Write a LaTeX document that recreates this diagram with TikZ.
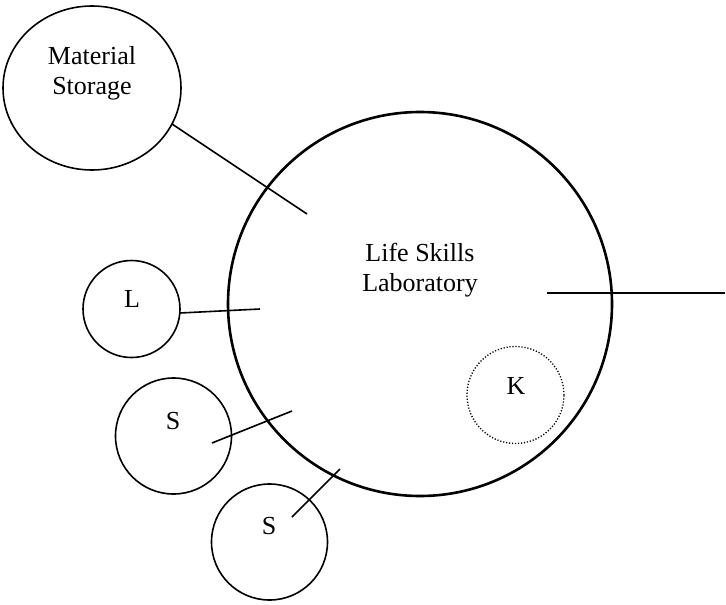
\documentclass[tikz,border=0pt]{standalone}
\usepackage{fontspec}
\setmainfont{Liberation Serif}
\usetikzlibrary{shapes.geometric}
\begin{document}
\begin{tikzpicture}[x=1pt,y=-1pt,
  room/.style={draw,circle,inner sep=0pt,outer sep=0pt,line width=1.6pt},
  bigroom/.style={draw,circle,inner sep=0pt,outer sep=0pt,line width=2.6pt},
  dotroom/.style={draw,circle,inner sep=0pt,outer sep=0pt,line width=1.3pt,dash pattern=on 1.2pt off 1.8pt},
  lbl/.style={font=\fontsize{26}{30}\selectfont,align=center,inner sep=0pt},
  link/.style={line width=1.6pt}]
\useasboundingbox (0,0) rectangle (726,605);
% shapes
\node[draw,ellipse,inner sep=0pt,outer sep=0pt,line width=1.6pt,minimum width=178pt,minimum height=164pt] (ms) at (92,88) {};
\node[bigroom,minimum size=384pt] (lab) at (420,304) {};
\node[room,minimum size=97pt] (l) at (131.5,309) {};
\node[room,minimum size=116pt] (s1) at (173.5,436) {};
\node[room,minimum size=116pt] (s2) at (269.5,542) {};
\node[dotroom,minimum size=97pt] (k) at (515.5,395) {};
% labels
\node[lbl] (mst) at (92,73) {Material\\Storage};
\node[lbl] (labt) at (420,270) {Life Skills\\Laboratory};
\node[lbl] (lt) at (132,299) {L};
\node[lbl] (s1t) at (173,421) {S};
\node[lbl] (s2t) at (269,526) {S};
\node[lbl] (kt) at (516,385.5) {K};
% connector ends
\coordinate (a1) at (172,124); \coordinate (a2) at (307,214);
\coordinate (b1) at (180,313); \coordinate (b2) at (260,309);
\coordinate (c1) at (212,443); \coordinate (c2) at (292,411);
\coordinate (d1) at (292,517); \coordinate (d2) at (340,469);
\coordinate (e1) at (547,293); \coordinate (e2) at (725,293);
\draw[link] (a1) -- (a2);
\draw[link] (b1) -- (b2);
\draw[link] (c1) -- (c2);
\draw[link] (d1) -- (d2);
\draw[link] (e1) -- (e2);
\end{tikzpicture}
\end{document}
